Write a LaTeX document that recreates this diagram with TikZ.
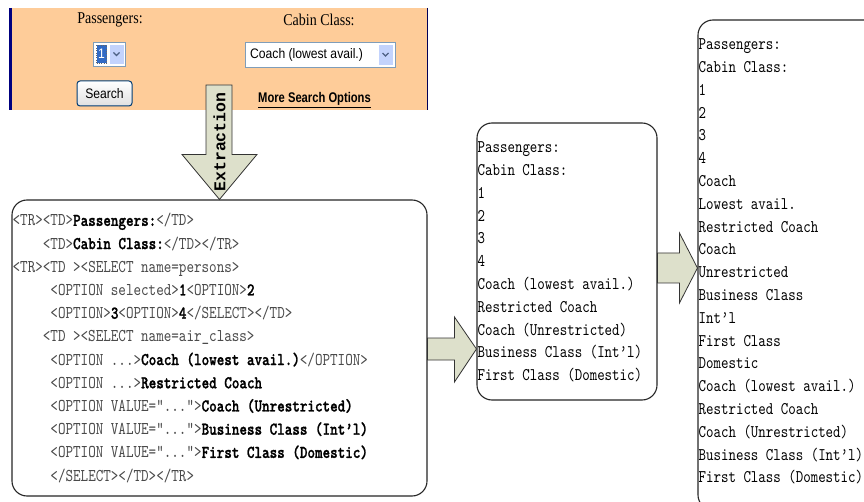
\documentclass[tikz,border=0pt]{standalone}
\usepackage{fontspec}
\setmainfont{Liberation Serif}
\newfontfamily\webserif{Liberation Serif}[FakeStretch=0.85]
\newfontfamily\websans{Liberation Sans}[FakeStretch=0.88]
\newfontfamily\webnarrow{Liberation Sans}[FakeStretch=0.8]
\newfontfamily\labelmono{Liberation Mono}
\newfontfamily\codefont{lmmono10-regular.otf}[FakeStretch=0.8, BoldFont=lmmonolt10-bold.otf, BoldFeatures={FakeBold=1.2}]
\usetikzlibrary{calc}

\definecolor{formbg}{HTML}{FECC99}
\definecolor{formedge}{HTML}{00007F}
\definecolor{arrowfill}{HTML}{DDE0CB}
\definecolor{tagcol}{HTML}{4A4A4A}
\definecolor{selblue}{HTML}{316AC5}
\definecolor{selborder}{HTML}{7F9DB9}
\definecolor{dropbtn}{HTML}{C3D3FD}
\definecolor{chevron}{HTML}{4D6185}
\definecolor{btnedge}{HTML}{003C74}

% grey markup tags and bold extracted values
\newcommand\tg[1]{\textcolor{tagcol}{#1}}
\newcommand\vl[1]{\textbf{#1}}
\newcommand\ind[1]{\hspace*{#1\fontcharwd\font`M}}

\begin{document}
\begin{tikzpicture}[x=1pt,y=-1pt,
  codebox/.style={draw=black!85, line width=1.1pt, rounded corners=15pt, fill=white, inner sep=0pt},
  codetext/.style={anchor=north west, inner sep=0pt, align=left},
  blockarrow/.style={draw=black!80, fill=arrowfill, line width=0.8pt, line join=miter},
  formlabel/.style={inner sep=0pt, font=\webserif\fontsize{16.5}{18}\selectfont},
  selectbox/.style={draw=selborder, fill=white, line width=0.8pt, inner sep=0pt},
  dropbutton/.style={fill=dropbtn, draw=white, line width=0.5pt, inner sep=0pt},
  chev/.style={draw=chevron, line width=1.2pt}
]
\useasboundingbox (0,0) rectangle (864,502);
\clip (0,0) rectangle (864,502);

% ---------------- web search form ----------------
\node[fill=formbg, minimum width=417pt, minimum height=102pt, inner sep=0pt] (form) at (218.5,59) {};
\draw[formedge, line width=3pt] ([xshift=1pt]form.north west) -- ([xshift=1pt]form.south west);
\draw[formedge!70!black, line width=1pt] (form.north east) -- (form.south east);

\node[formlabel] (plabel) at (110,20) {Passengers:};
\node[formlabel] (clabel) at (319,20) {Cabin Class:};

% passengers drop-down
\node[selectbox, minimum width=32pt, minimum height=24pt] (psel) at (109,54) {};
\node[fill=selblue, draw=black!60, dotted, minimum width=10pt, minimum height=18pt, inner sep=0pt,
      text=white, font=\websans\fontsize{13.8}{15}\selectfont] (pval) at (101.5,54) {1};
\node[dropbutton, minimum width=15pt, minimum height=20pt] (pbtn) at (116.5,54) {};
\draw[chev] ([xshift=-3pt,yshift=1.5pt]pbtn.center) -- ([yshift=-1.5pt]pbtn.center) -- ([xshift=3pt,yshift=1.5pt]pbtn.center);

% cabin class drop-down
\node[selectbox, minimum width=150pt, minimum height=25pt] (csel) at (320,54.5) {};
\node[anchor=west, inner sep=0pt, font=\websans\fontsize{13.8}{15}\selectfont] (cval) at (250,55) {Coach (lowest avail.)};
\node[dropbutton, minimum width=15pt, minimum height=21pt] (cbtn) at (385.5,54.5) {};
\draw[chev] ([xshift=-3pt,yshift=1.5pt]cbtn.center) -- ([yshift=-1.5pt]cbtn.center) -- ([xshift=3pt,yshift=1.5pt]cbtn.center);

% search button and link
\node[draw=btnedge, line width=1pt, rounded corners=3pt, top color=white, bottom color=black!12,
      minimum width=55pt, minimum height=25pt, inner sep=0pt,
      font=\websans\fontsize{13.8}{15}\selectfont] (search) at (104.5,93.5) {Search};
\node[inner sep=0pt, font=\webnarrow\bfseries\fontsize{14}{16}\selectfont] (more) at (314.5,100) {\underline{More Search Options}};

% ---------------- boxes ----------------
\node[codebox, minimum width=415pt, minimum height=296pt] (big) at (219.5,348) {};
\node[codebox, minimum width=180pt, minimum height=277pt] (mid) at (567,261.5) {};
\node[codebox, minimum width=190pt, minimum height=490pt] (res) at (793,265) {};

% extraction arrow from the form down to the source box
\coordinate (xtop) at (219,85);
\path[blockarrow] let \p1=(xtop), \p2=(big.north) in
  (\x1-13pt,\y1) -- (\x1+13pt,\y1) -- (\x1+13pt,\y2+45pt) -- (\x1+38pt,\y2+45pt)
  -- (\x2,\y2) -- (\x1-37pt,\y2+45pt) -- (\x1-13pt,\y2+45pt) -- cycle;
\node[rotate=90, inner sep=0pt, font=\labelmono\bfseries\fontsize{16.5}{18}\selectfont] (extlabel) at (219.5,142) {Extraction};

% source box -> middle box
\coordinate (row1) at (0,349);
\path[blockarrow] let \p1=(big.east |- row1), \p2=(mid.west |- row1) in
  (\x1,\y1+11pt) -- (\x2-22pt,\y1+11pt) -- (\x2-22pt,\y1+32pt) -- (\x2,\y1)
  -- (\x2-22pt,\y1-33pt) -- (\x2-22pt,\y1-11pt) -- (\x1,\y1-11pt) -- cycle;

% middle box -> result box
\coordinate (row2) at (0,268);
\path[blockarrow] let \p1=(mid.east |- row2), \p2=(res.west |- row2) in
  (\x1,\y1+15pt) -- (\x2-18pt,\y1+15pt) -- (\x2-18pt,\y1+35pt) -- (\x2,\y1)
  -- (\x2-18pt,\y1-35pt) -- (\x2-18pt,\y1-15pt) -- (\x1,\y1-15pt) -- cycle;

% ---------------- box contents ----------------
\node[codetext, font=\codefont\fontsize{18}{23.2}\selectfont] (bigtext) at ([xshift=1pt,yshift=-10pt]big.north west) {%
\strut\tg{<TR><TD>}\vl{Passengers:}\tg{</TD>}\\
\ind{4}\tg{<TD>}\vl{Cabin Class:}\tg{</TD></TR>}\\
\tg{<TR><TD ><SELECT name=persons>}\\
\ind{5}\tg{<OPTION selected>}\vl{1}\tg{<OPTION>}\vl{2}\\
\ind{5}\tg{<OPTION>}\vl{3}\tg{<OPTION>}\vl{4}\tg{</SELECT></TD>}\\
\ind{4}\tg{<TD ><SELECT name=air\_class>}\\
\ind{5}\tg{<OPTION ...>}\vl{Coach (lowest avail.)}\tg{</OPTION>}\\
\ind{5}\tg{<OPTION ...>}\vl{Restricted Coach}\\
\ind{5}\tg{<OPTION VALUE=”...”>}\vl{Coach (Unrestricted)}\\
\ind{5}\tg{<OPTION VALUE=”...”>}\vl{Business Class (Int’l)}\\
\ind{5}\tg{<OPTION VALUE=”...”>}\vl{First Class (Domestic)}\\
\ind{5}\tg{</SELECT></TD></TR>}};

\node[codetext, font=\codefont\fontsize{17.8}{22.8}\selectfont] (midtext) at ([xshift=1pt,yshift=-14pt]mid.north west) {%
\strut Passengers:\\
Cabin Class:\\
1\\
2\\
3\\
4\\
Coach (lowest avail.)\\
Restricted Coach\\
Coach (Unrestricted)\\
Business Class (Int’l)\\
First Class (Domestic)};

\node[codetext, font=\codefont\fontsize{17.8}{22.8}\selectfont] (restext) at ([xshift=1pt,yshift=-14pt]res.north west) {%
\strut Passengers:\\
Cabin Class:\\
1\\
2\\
3\\
4\\
Coach\\
Lowest avail.\\
Restricted Coach\\
Coach\\
Unrestricted\\
Business Class\\
Int’l\\
First Class\\
Domestic\\
Coach (lowest avail.)\\
Restricted Coach\\
Coach (Unrestricted)\\
Business Class (Int’l)\\
First Class (Domestic)};
\end{tikzpicture}
\end{document}
